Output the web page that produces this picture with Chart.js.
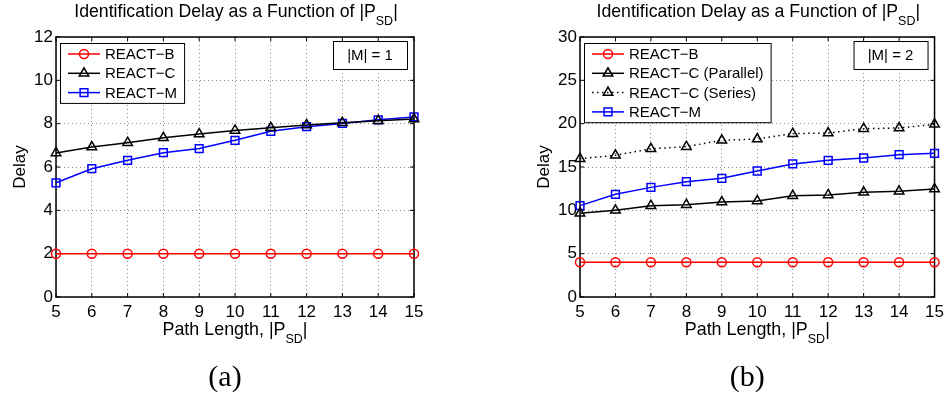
<!DOCTYPE html>
<html lang="en">
<head>
    <meta charset="UTF-8">
    <title>Identification Delay as a Function of |PSD|</title>
    <script src="https://cdn.jsdelivr.net/npm/chart.js"></script>
    <style>
        body { margin: 0; background: #fff; }
        .wrap { display: flex; width: 949px; height: 398px; }
    </style>
</head>
<body>
    <div class="wrap">
        <canvas id="chartA" width="475" height="398"></canvas>
        <canvas id="chartB" width="474" height="398"></canvas>
    </div>
    <script>
        // path length |P_SD|
        const pathLength = [5, 6, 7, 8, 9, 10, 11, 12, 13, 14, 15];

        // (a) |M| = 1
        const reactB_a = [2, 2, 2, 2, 2, 2, 2, 2, 2, 2, 2];
        const reactC_a = [6.65, 6.92, 7.12, 7.35, 7.52, 7.69, 7.81, 7.94, 8.04, 8.14, 8.21];
        const reactM_a = [5.27, 5.92, 6.31, 6.66, 6.85, 7.23, 7.65, 7.86, 8.01, 8.18, 8.31];

        // (b) |M| = 2
        const reactB_b = [4, 4, 4, 4, 4, 4, 4, 4, 4, 4, 4];
        const reactCPar_b = [9.65, 10.0, 10.54, 10.65, 10.96, 11.08, 11.69, 11.77, 12.08, 12.19, 12.46];
        const reactCSer_b = [15.96, 16.35, 17.1, 17.35, 18.08, 18.23, 18.85, 18.92, 19.42, 19.5, 19.92];
        const reactM_b = [10.54, 11.85, 12.65, 13.3, 13.69, 14.54, 15.35, 15.77, 16.04, 16.42, 16.58];

        const yMaxA = 12, yStepA = 2;
        const yMaxB = 30, yStepB = 5;

        const FONT = '"Liberation Sans", Arial, sans-serif';

        function toPoints(ys) {
            return pathLength.map((x, i) => ({ x: x, y: ys[i] }));
        }

        function series(label, ys, color, style, radius, dash) {
            return {
                label: label,
                data: toPoints(ys),
                borderColor: color,
                backgroundColor: 'rgba(0,0,0,0)',
                borderWidth: 1.5,
                borderDash: dash || [],
                pointStyle: style,
                pointRadius: radius,
                pointBorderWidth: 1.5,
                pointBorderColor: color,
                pointBackgroundColor: 'rgba(0,0,0,0)',
                tension: 0,
                clip: false
            };
        }

        // text with a subscript, centred on cx
        function subText(ctx, cx, y, main, sub, tail, size, subSize, drop) {
            ctx.textBaseline = 'alphabetic';
            ctx.textAlign = 'left';
            ctx.font = size + 'px ' + FONT;
            const w1 = ctx.measureText(main).width;
            const w3 = ctx.measureText(tail).width;
            ctx.font = subSize + 'px ' + FONT;
            const w2 = ctx.measureText(sub).width;
            let x = cx - (w1 + w2 + w3) / 2;
            ctx.font = size + 'px ' + FONT;
            ctx.fillText(main, x, y);
            x += w1;
            ctx.font = subSize + 'px ' + FONT;
            ctx.fillText(sub, x, y + drop);
            x += w2;
            ctx.font = size + 'px ' + FONT;
            ctx.fillText(tail, x, y);
        }

        function marker(ctx, style, r, x, y) {
            ctx.beginPath();
            if (style === 'circle') {
                ctx.arc(x, y, r, 0, Math.PI * 2);
            } else if (style === 'triangle') {
                ctx.moveTo(x, y - r);
                ctx.lineTo(x + r * 0.866, y + r / 2);
                ctx.lineTo(x - r * 0.866, y + r / 2);
                ctx.closePath();
            } else {
                const s = r * Math.SQRT1_2;
                ctx.rect(x - s, y - s, 2 * s, 2 * s);
            }
            ctx.stroke();
        }

        const framePlugin = {
            id: 'frame',
            beforeDatasetsDraw(chart) {
                const ctx = chart.ctx, a = chart.chartArea;
                const xs = chart.scales.x, ys = chart.scales.y;
                ctx.save();
                ctx.strokeStyle = '#000';
                ctx.lineWidth = 1.5;
                ctx.setLineDash([]);
                ctx.strokeRect(a.left, a.top, a.right - a.left, a.bottom - a.top);
                ctx.lineWidth = 1;
                ctx.beginPath();
                xs.ticks.forEach(t => {
                    const px = xs.getPixelForValue(t.value);
                    ctx.moveTo(px, a.bottom); ctx.lineTo(px, a.bottom - 4);
                    ctx.moveTo(px, a.top); ctx.lineTo(px, a.top + 4);
                });
                ys.ticks.forEach(t => {
                    const py = ys.getPixelForValue(t.value);
                    ctx.moveTo(a.left, py); ctx.lineTo(a.left + 4, py);
                    ctx.moveTo(a.right, py); ctx.lineTo(a.right - 4, py);
                });
                ctx.stroke();
                ctx.restore();
            },
            afterDraw(chart, args, opts) {
                const ctx = chart.ctx, a = chart.chartArea;
                const cx = (a.left + a.right) / 2;
                ctx.save();
                ctx.fillStyle = '#000';
                ctx.strokeStyle = '#000';

                // title and axis labels
                subText(ctx, cx + 1, 17, 'Identification Delay as a Function of |P', 'SD', '|', 17.7, 12.5, 8);
                subText(ctx, cx, 335, 'Path Length, |P', 'SD', '|', 17.9, 12.5, 8);

                ctx.save();
                ctx.translate(a.left - 36, 167);
                ctx.rotate(-Math.PI / 2);
                ctx.font = '17px ' + FONT;
                ctx.textAlign = 'center';
                ctx.textBaseline = 'middle';
                ctx.fillText('Delay', 0, 0);
                ctx.restore();

                // note box, top right
                const nw = 74, nh = 28;
                const nx = a.right - 7 - nw, ny = a.top + 4;
                ctx.fillStyle = '#fff';
                ctx.fillRect(nx, ny, nw, nh);
                ctx.lineWidth = 1;
                ctx.strokeRect(nx + 0.5, ny + 0.5, nw, nh);
                ctx.fillStyle = '#000';
                ctx.font = '15px ' + FONT;
                ctx.textAlign = 'center';
                ctx.textBaseline = 'middle';
                ctx.fillText(opts.note, nx + nw / 2, ny + nh / 2 + 1);

                // legend, top left
                const sets = chart.data.datasets;
                ctx.font = '15px ' + FONT;
                const tw = Math.max(...sets.map(d => ctx.measureText(d.label).width));
                const lx = a.left + 4, ly = a.top + 6;
                const rowH = 19.3;
                const lw = tw + 52, lh = sets.length * rowH + 2;
                ctx.fillStyle = '#fff';
                ctx.fillRect(lx, ly, lw, lh);
                ctx.strokeStyle = '#000';
                ctx.lineWidth = 1;
                ctx.strokeRect(lx + 0.5, ly + 0.5, lw, lh);
                sets.forEach((d, i) => {
                    const ry = ly + 11 + i * rowH;
                    ctx.strokeStyle = d.borderColor;
                    ctx.lineWidth = 1.5;
                    ctx.setLineDash(d.borderDash);
                    ctx.beginPath();
                    ctx.moveTo(lx + 8, ry);
                    ctx.lineTo(lx + 40, ry);
                    ctx.stroke();
                    ctx.setLineDash([]);
                    marker(ctx, d.pointStyle, d.pointRadius, lx + 24, ry);
                    ctx.fillStyle = '#000';
                    ctx.textAlign = 'left';
                    ctx.textBaseline = 'middle';
                    ctx.fillText(d.label, lx + 45, ry + 1);
                });

                // caption
                ctx.font = '30px "Liberation Serif", "DejaVu Serif", serif';
                ctx.textAlign = 'center';
                ctx.textBaseline = 'alphabetic';
                ctx.fillStyle = '#000';
                ctx.fillText(opts.caption, cx - 10, 386);
                ctx.restore();
            }
        };

        function makeChart(id, datasets, yMax, yStep, yWidth, padRight, note, caption) {
            const ctx = document.getElementById(id).getContext('2d');
            return new Chart(ctx, {
                type: 'line',
                data: { datasets: datasets },
                plugins: [framePlugin],
                options: {
                    responsive: false,
                    animation: false,
                    layout: { padding: { left: 0, top: 37, right: padRight, bottom: 0 } },
                    plugins: {
                        legend: { display: false },
                        title: { display: false },
                        tooltip: { enabled: false },
                        frame: { note: note, caption: caption }
                    },
                    scales: {
                        x: {
                            type: 'linear',
                            min: 5,
                            max: 15,
                            afterFit: s => { s.height = 101; },
                            ticks: {
                                stepSize: 1,
                                autoSkip: false,
                                maxRotation: 0,
                                color: '#000',
                                padding: 5,
                                font: { family: FONT, size: 17 }
                            },
                            grid: { color: '#8a8a8a', lineWidth: 1, drawTicks: false },
                            border: { display: false, dash: [1, 3] }
                        },
                        y: {
                            min: 0,
                            max: yMax,
                            afterFit: s => { s.width = yWidth; },
                            ticks: {
                                stepSize: yStep,
                                color: '#000',
                                padding: 3,
                                font: { family: FONT, size: 17 }
                            },
                            grid: { color: '#8a8a8a', lineWidth: 1, drawTicks: false },
                            border: { display: false, dash: [1, 3] }
                        }
                    }
                }
            });
        }

        makeChart('chartA', [
            series('REACT\u2212B', reactB_a, '#ff0000', 'circle', 4.5),
            series('REACT\u2212C', reactC_a, '#000000', 'triangle', 5.5),
            series('REACT\u2212M', reactM_a, '#0000ff', 'rect', 5.5)
        ], yMaxA, yStepA, 56, 61, '|M| = 1', '(a)');

        makeChart('chartB', [
            series('REACT\u2212B', reactB_b, '#ff0000', 'circle', 4.5),
            series('REACT\u2212C (Parallel)', reactCPar_b, '#000000', 'triangle', 5.5),
            series('REACT\u2212C (Series)', reactCSer_b, '#000000', 'triangle', 5.5, [1.5, 3.5]),
            series('REACT\u2212M', reactM_b, '#0000ff', 'rect', 5.5)
        ], yMaxB, yStepB, 105, 11, '|M| = 2', '(b)');
    </script>
</body>
</html>
